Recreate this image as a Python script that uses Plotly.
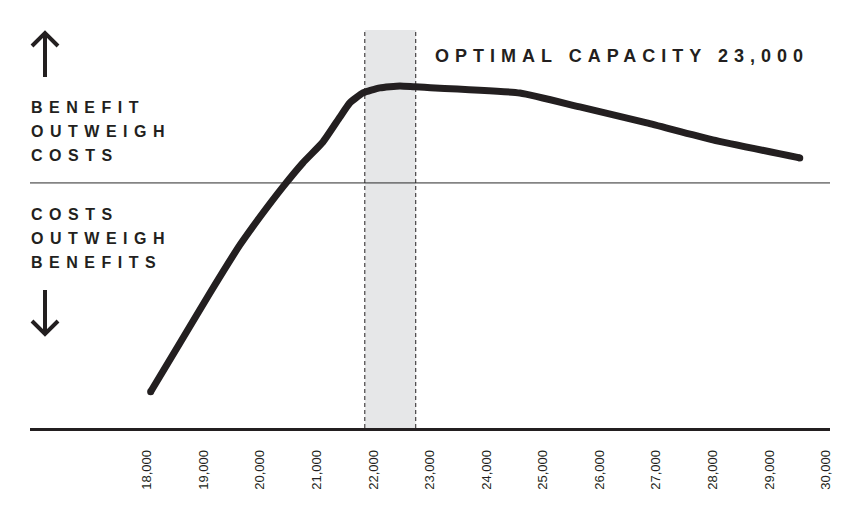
import plotly.graph_objects as go

# ---- data ----
capacity = [18065, 18583, 19113, 19643, 19996, 20403, 20756, 21110, 21410, 21587,
            21816, 22117, 22470, 22735, 24590, 25650, 26834, 28000, 29537]
net_benefit = [-85.2, -65.3, -44.9, -25.3, -13.9, -1.6, 8.2, 16.7, 26.9, 32.7,
               36.7, 38.8, 39.6, 39.2, 36.7, 31.0, 24.5, 17.6, 10.2]
tick_values = [18000, 19000, 20000, 21000, 22000, 23000, 24000, 25000, 26000,
               27000, 28000, 29000, 30000]
tick_labels = ["18,000", "19,000", "20,000", "21,000", "22,000", "23,000", "24,000",
               "25,000", "26,000", "27,000", "28,000", "29,000", "30,000"]
band_start, band_end = 21850, 22750
headline = "OPTIMAL CAPACITY 23,000"
upper_label = ["BENEFIT", "OUTWEIGH", "COSTS"]
lower_label = ["COSTS", "OUTWEIGH", "BENEFITS"]

INK = "#231f20"
X_RANGE = [15933, 30071]
Y_RANGE = [-100, 62.4]

def tracked(s, sp):
    return '<span style="letter-spacing:%spx">%s</span>' % (sp, s)

fig = go.Figure()

fig.add_trace(go.Scatter(
    x=capacity, y=net_benefit, mode="lines",
    line=dict(color=INK, width=7, shape="spline", smoothing=0.45),
    hoverinfo="skip", showlegend=False))
# rounded caps at the ends
fig.add_trace(go.Scatter(
    x=[capacity[0], capacity[-1]], y=[net_benefit[0], net_benefit[-1]], mode="markers",
    marker=dict(color=INK, size=7, line=dict(width=0)),
    hoverinfo="skip", showlegend=False))

# shaded optimal band
fig.add_shape(type="rect", xref="x", yref="y", x0=band_start, x1=band_end,
              y0=Y_RANGE[0], y1=Y_RANGE[1], fillcolor="#e6e7e8", line=dict(width=0),
              layer="below")
for bx in (band_start, band_end):
    fig.add_shape(type="line", xref="x", yref="y", x0=bx, x1=bx,
                  y0=Y_RANGE[0], y1=Y_RANGE[1],
                  line=dict(color=INK, width=1, dash="4px,3px"), layer="below")

# break-even line
fig.add_shape(type="line", xref="x", yref="y", x0=X_RANGE[0], x1=X_RANGE[1], y0=0, y1=0,
              line=dict(color="#2a2a2a", width=1), layer="below")

# arrows (pixel-derived paper coords)
def px(x):
    return (x - 30) / 800.0
def py(y):
    return (428 - y) / 398.0

arrow_line = dict(color=INK, width=4)
# up arrow
fig.add_shape(type="line", xref="paper", yref="paper", x0=px(45), x1=px(45),
              y0=py(77), y1=py(34), line=arrow_line)
fig.add_shape(type="path", xref="paper", yref="paper",
              path="M %f,%f L %f,%f L %f,%f" % (px(32), py(46), px(45), py(33), px(58), py(46)),
              line=arrow_line)
# down arrow
fig.add_shape(type="line", xref="paper", yref="paper", x0=px(45), x1=px(45),
              y0=py(290), y1=py(333), line=arrow_line)
fig.add_shape(type="path", xref="paper", yref="paper",
              path="M %f,%f L %f,%f L %f,%f" % (px(32), py(321), px(45), py(334), px(58), py(321)),
              line=arrow_line)

label_font = dict(family="Liberation Sans, Arial, sans-serif", size=16, color=INK, weight=700)
head_font = dict(family="Liberation Sans, Arial, sans-serif", size=18, color=INK, weight=700)
for i, t in enumerate(upper_label):
    fig.add_annotation(xref="paper", yref="paper", x=px(29), y=py(107 + 24 * i),
                       text=tracked(t, 6.5), showarrow=False, xanchor="left",
                       yanchor="middle", font=label_font)
for i, t in enumerate(lower_label):
    fig.add_annotation(xref="paper", yref="paper", x=px(29), y=py(214 + 24 * i),
                       text=tracked(t, 6.5), showarrow=False, xanchor="left",
                       yanchor="middle", font=label_font)

fig.add_annotation(xref="paper", yref="paper", x=px(433), y=py(56),
                   text=tracked(headline, 6), showarrow=False, xanchor="left",
                   yanchor="middle", font=head_font)

fig.update_layout(
    width=849, height=521,
    margin=dict(l=22, r=27, t=22, b=101),
    paper_bgcolor="white", plot_bgcolor="white",
    xaxis=dict(range=X_RANGE, tickvals=tick_values, ticktext=tick_labels,
               tickangle=-90, showgrid=False, zeroline=False,
               showline=True, linewidth=2.5, linecolor=INK, ticks="",
               ticklabelstandoff=14,
               tickfont=dict(family="Liberation Sans, Arial, sans-serif", size=13, color=INK)),
    yaxis=dict(range=Y_RANGE, visible=False, showgrid=False, zeroline=False),
)

fig.write_html("out.html")
